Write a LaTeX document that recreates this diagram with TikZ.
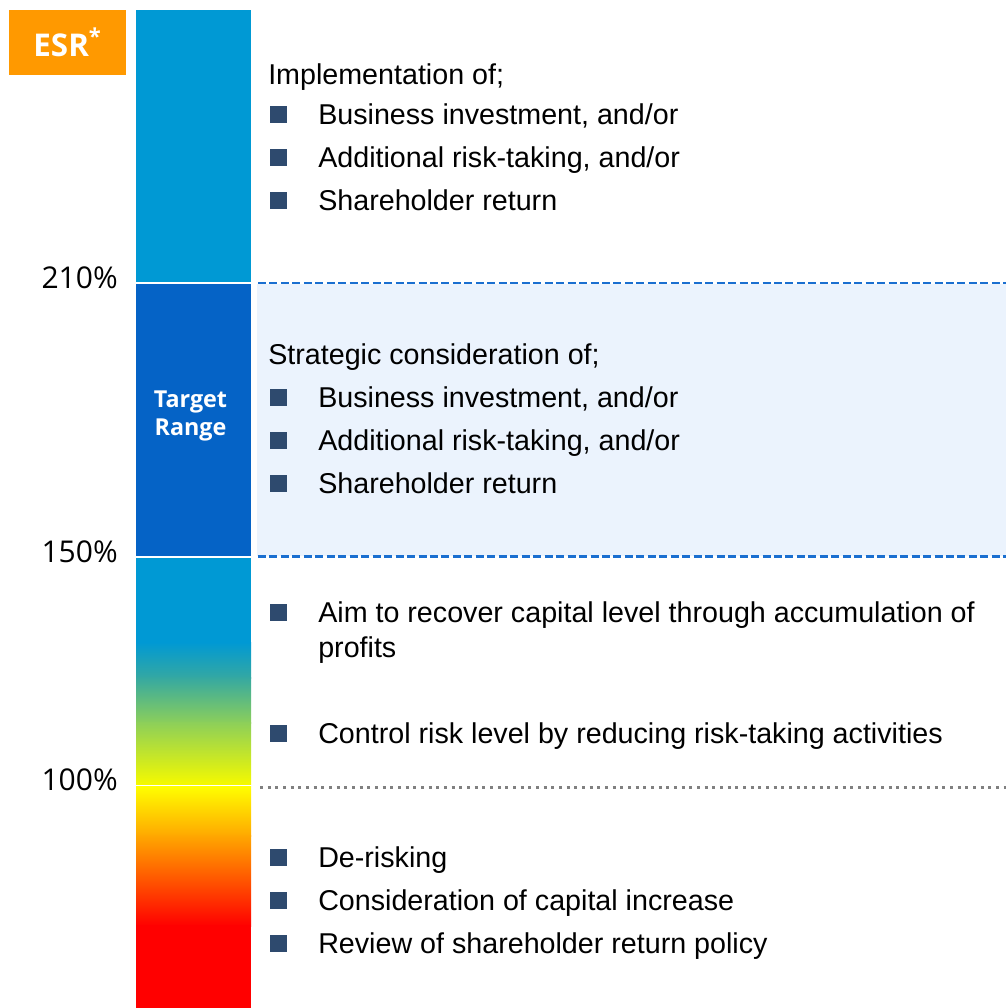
\documentclass[tikz,border=0pt]{standalone}
\usepackage{fontspec}
\setmainfont{Liberation Sans}
\newfontfamily\labelfont{Open Sans}
\definecolor{esrorange}{HTML}{FF9900}
\definecolor{bartop}{HTML}{0099D4}
\definecolor{bartarget}{HTML}{0563C6}
\definecolor{barteal}{HTML}{34A8A2}
\definecolor{bargreen}{HTML}{8CCF5A}
\definecolor{baryellow}{HTML}{F4F900}
\definecolor{barorange}{HTML}{FFA800}
\definecolor{bandfill}{HTML}{EBF3FD}
\definecolor{bandline}{HTML}{1A6FD0}
\definecolor{bulletblue}{HTML}{2E4A6E}
\tikzset{
	item/.style={anchor=base west, inner sep=0pt, font=\fontsize{21.5}{26.25}\selectfont},
	sq/.style={fill=bulletblue, minimum size=12.75pt, inner sep=0pt},
	pct/.style={anchor=base east, inner sep=0pt, font=\labelfont\fontsize{22.5}{26}\selectfont},
	bandedge/.style={bandline, line width=1.9pt, dash pattern=on 6pt off 2.6pt},
	floorline/.style={gray, line width=2.25pt, dash pattern=on 2.25pt off 3.5pt}
}
\begin{document}
\begin{tikzpicture}[x=0.75pt,y=-0.75pt]
	\useasboundingbox (0,0) rectangle (1006,1008);
	\fill[bandfill] (257,284) rectangle (1006,556);
	\fill[bartop] (136,10) rectangle (251,282);
	\fill[bartarget] (136,284) rectangle (251,556);
	\fill[bartop] (136,558) rectangle (251,643);
	\shade[top color=bartop, bottom color=barteal] (136,642) rectangle (251,678);
	\shade[top color=barteal, bottom color=bargreen] (136,677) rectangle (251,723);
	\shade[top color=bargreen, bottom color=baryellow] (136,722) rectangle (251,784);
	\shade[top color=yellow, bottom color=barorange] (136,786) rectangle (251,836);
	\shade[top color=barorange, bottom color=red] (136,835) rectangle (251,926);
	\fill[red] (136,925) rectangle (251,1008);
	\draw[bandedge] (258,283) -- (1006,283);
	\draw[bandedge] (258,556.5) -- (1006,556.5);
	\draw[floorline] (260,787) -- (1006,787);
	\node[fill=esrorange, minimum width=87.75pt, minimum height=48.75pt, text=white, font=\labelfont\bfseries\fontsize{23.5}{26}\selectfont] (esr) at (67.5,42.5) {ESR\textsuperscript{*}};
	\node[text=white, align=center, font=\labelfont\bfseries\fontsize{17.5}{21}\selectfont] (target) at (190.5,416) {Target\\Range};
	\node[pct] (p210) at (118,288) {210\%};
	\node[pct] (p150) at (118,562) {150\%};
	\node[pct] (p100) at (118,790) {100\%};
	\node[item] (impl) at (268,84) {Implementation of;};
	\node[sq] (b1) at (278.5,114.5) {};
	\node[item] (t1) at (318,124.5) {Business investment, and/or};
	\node[sq] (b2) at (278.5,157.5) {};
	\node[item] (t2) at (318,167.5) {Additional risk-taking, and/or};
	\node[sq] (b3) at (278.5,200.5) {};
	\node[item] (t3) at (318,210.5) {Shareholder return};
	\node[item] (strat) at (268,364) {Strategic consideration of;};
	\node[sq] (b4) at (278.5,397) {};
	\node[item] (t4) at (318,407) {Business investment, and/or};
	\node[sq] (b5) at (278.5,440) {};
	\node[item] (t5) at (318,450) {Additional risk-taking, and/or};
	\node[sq] (b6) at (278.5,483) {};
	\node[item] (t6) at (318,493) {Shareholder return};
	\node[sq] (b7) at (278.5,612.5) {};
	\node[item, align=left] (t7) at (318,657.5) {Aim to recover capital level through accumulation of\\profits};
	\node[sq] (b8) at (278.5,733.5) {};
	\node[item] (t8) at (318,743.5) {Control risk level by reducing risk-taking activities};
	\node[sq] (b9) at (278.5,857) {};
	\node[item] (t9) at (318,867) {De-risking};
	\node[sq] (b10) at (278.5,900) {};
	\node[item] (t10) at (318,910) {Consideration of capital increase};
	\node[sq] (b11) at (278.5,943) {};
	\node[item] (t11) at (318,953) {Review of shareholder return policy};
\end{tikzpicture}
\end{document}
